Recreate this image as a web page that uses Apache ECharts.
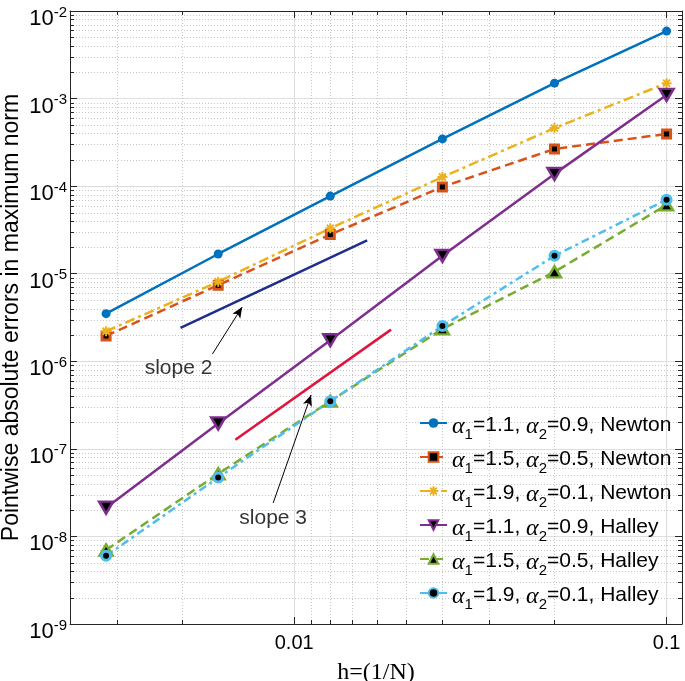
<!DOCTYPE html>
<html><head><meta charset="utf-8">
<script src="https://cdn.jsdelivr.net/npm/echarts@6/dist/echarts.min.js"></script>
<style>html,body{margin:0;padding:0;background:#fff}#c{width:685px;height:681px}</style>
</head><body><div id="c"></div>
<script>
// ---------- data ----------
const h = [0.003125, 0.00625, 0.0125, 0.025, 0.05, 0.1];
const newton11 = [3.5e-6, 1.68e-5, 7.7e-5, 3.46e-4, 1.5e-3, 5.9e-3];
const newton15 = [1.95e-6, 7.4e-6, 2.8e-5, 9.8e-5, 2.66e-4, 3.95e-4];
const newton19 = [2.2e-6, 8.1e-6, 3.3e-5, 1.27e-4, 4.6e-4, 1.5e-3];
const halley11 = [2.13e-8, 1.95e-7, 1.74e-6, 1.6e-5, 1.38e-4, 1.1e-3];
const halley15 = [7.0e-9, 5.2e-8, 3.5e-7, 2.34e-6, 1.05e-5, 6.1e-5];
const halley19 = [6.0e-9, 4.7e-8, 3.5e-7, 2.53e-6, 1.6e-5, 7.0e-5];
const alpha1 = ['1.1', '1.5', '1.9', '1.1', '1.5', '1.9'];
const alpha2 = ['0.9', '0.5', '0.1', '0.9', '0.5', '0.1'];
const methods = ['Newton', 'Newton', 'Newton', 'Halley', 'Halley', 'Halley'];
const xTickValues = [0.01, 0.1];
const xTickLabels = ['0.01', '0.1'];
const yTickExponents = [-9, -8, -7, -6, -5, -4, -3, -2];
const xMinorTicks = [0.0033333, 0.005, 0.0111111, 0.0125, 0.0142857, 0.0166667, 0.02, 0.025, 0.0333333, 0.05];
const yMinorMultipliers = [2, 3, 4, 5, 6, 7, 8, 9];
const slope2Line = [[0.00495, 2.4e-6], [0.0157, 2.4e-5]];
const slope3Line = [[0.00695, 1.27e-7], [0.0182, 2.3e-6]];
const annotTexts = [['slope 2', 0.00489, 8.4e-7], ['slope 3', 0.00878, 1.6e-8]];
const annotArrows = [[[0.00603, 1.21e-6], [0.00725, 4.17e-6]], [[0.00878, 2.41e-8], [0.0111, 4.12e-7]]];

// ---------- styles ----------
const FONT = 'Liberation Sans, Arial, Helvetica, sans-serif';
const AX = '#262626';
const allSeries = [newton11, newton15, newton19, halley11, halley15, halley19];
const names = allSeries.map((_, i) => 'a1=' + alpha1[i] + ', a2=' + alpha2[i] + ', ' + methods[i]);
const lineColors = ['#0072BD', '#D95319', '#EDB120', '#7E2F8E', '#77AC30', '#4DBEEE'];
const lineTypes = ['solid', [9, 5], [10, 4, 3, 4], 'solid', [9, 5], [8, 4, 3, 4]];
const symbols = ['circle', 'rect', 'path://M5,0L5,10M0,5L10,5M1.5,1.5L8.5,8.5M8.5,1.5L1.5,8.5', 'triangle', 'triangle', 'circle'];
const symSizes = [9, 8, 10, [14, 12], [13, 11], 9];
const symRot = [0, 0, 0, 180, 0, 0];
const itemStyles = [
  {color: '#0072BD', borderWidth: 0},
  {color: '#000', borderColor: '#D95319', borderWidth: 3},
  {color: 'rgba(0,0,0,0)', borderColor: '#EDB120', borderWidth: 2},
  {color: '#000', borderColor: '#7E2F8E', borderWidth: 2.5},
  {color: '#000', borderColor: '#77AC30', borderWidth: 2.5},
  {color: '#000', borderColor: '#4DBEEE', borderWidth: 3}
];

const dataSeries = allSeries.map((vals, i) => ({
  type: 'line', name: names[i], z: 5,
  data: h.map((x, k) => [x, vals[k]]),
  lineStyle: {color: lineColors[i], width: 2.5, type: lineTypes[i]},
  symbol: symbols[i], symbolSize: symSizes[i], symbolRotate: symRot[i],
  itemStyle: itemStyles[i], showAllSymbol: true
}));

const yMinorData = [];
yTickExponents.slice(0, -1).forEach(e => yMinorMultipliers.forEach(m => yMinorData.push([0.01, m * Math.pow(10, e)])));

function vLine(x, y1, y2, stroke, dash) {
  return {type: 'line', shape: {x1: x, y1: y1, x2: x, y2: y2}, style: {stroke: stroke, lineWidth: 1, lineDash: dash || null}};
}
function hLine(y, x1, x2, stroke, dash) {
  return {type: 'line', shape: {x1: x1, y1: y, x2: x2, y2: y}, style: {stroke: stroke, lineWidth: 1, lineDash: dash || null}};
}
const MINOR = '#c6c6c6', MDASH = [1, 2];

const gridSeries = [
  {
    type: 'custom', z: 1, silent: true, clip: false,
    data: xMinorTicks.map(v => [v, 1e-5]),
    renderItem(params, api) {
      const cs = params.coordSys;
      const x = Math.round(api.coord([api.value(0), 1e-5])[0]) + 0.5;
      return {type: 'group', children: [
        vLine(x, cs.y, cs.y + cs.height, MINOR, MDASH),
        vLine(x, cs.y + cs.height, cs.y + cs.height - 4, AX),
        vLine(x, cs.y, cs.y + 4, AX)
      ]};
    }
  },
  {
    type: 'custom', z: 1, silent: true, clip: false,
    data: yMinorData,
    renderItem(params, api) {
      const cs = params.coordSys;
      const y = Math.round(api.coord([0.01, api.value(1)])[1]) + 0.5;
      return {type: 'group', children: [
        hLine(y, cs.x, cs.x + cs.width, MINOR, MDASH),
        hLine(y, cs.x, cs.x + 4, AX),
        hLine(y, cs.x + cs.width, cs.x + cs.width - 4, AX)
      ]};
    }
  }
];

const refSeries = [
  {type: 'line', name: 'slope2', z: 4, data: slope2Line, symbol: 'none',
   lineStyle: {color: '#1F2E8C', width: 2.5}},
  {type: 'line', name: 'slope3', z: 4, data: slope3Line, symbol: 'none',
   lineStyle: {color: '#E0143C', width: 2.5}},
  {type: 'scatter', name: 'annot', z: 6, symbolSize: 1, itemStyle: {color: 'rgba(0,0,0,0)'},
   data: annotTexts.map(a => ({name: a[0], value: [a[1], a[2]]})),
   label: {show: true, position: 'inside', formatter: '{b}', fontSize: 21, fontFamily: FONT, color: '#000'},
   markLine: {
     silent: true, animation: false, symbol: ['none', 'arrow'], symbolSize: [7, 11],
     lineStyle: {color: '#000', width: 1, type: 'solid'}, label: {show: false},
     data: annotArrows.map(a => [{coord: a[0]}, {coord: a[1]}])
   }}
];

function xLabel(v) {
  for (let i = 0; i < xTickValues.length; i++) {
    if (Math.abs(Math.log10(v) - Math.log10(xTickValues[i])) < 1e-6) return xTickLabels[i];
  }
  return '';
}
function yLabel(v) {
  const e = Math.round(Math.log10(v));
  if (Math.abs(Math.log10(v) - e) > 1e-6 || yTickExponents.indexOf(e) < 0) return '';
  return '{b|10}{s|' + e + '}';
}

const xBase = {type: 'log', logBase: 10, min: 0.0025, max: 0.11,
  axisLine: {show: true, lineStyle: {color: AX, width: 1}},
  axisTick: {show: true, inside: true, length: 7, lineStyle: {color: AX}},
  minorTick: {show: false}, minorSplitLine: {show: false}};
const yBase = {type: 'log', logBase: 10, min: 1e-9, max: 1e-2,
  axisLine: {show: true, lineStyle: {color: AX, width: 1}},
  axisTick: {show: true, inside: true, length: 7, lineStyle: {color: AX}},
  minorTick: {show: false}, minorSplitLine: {show: false}};

const option = {
  animation: false,
  backgroundColor: '#fff',
  grid: {left: 70, top: 11, width: 612, height: 613, containLabel: false, outerBoundsMode: 'none'},
  xAxis: [
    Object.assign({}, xBase, {position: 'bottom',
      name: 'h=(1/N)', nameLocation: 'middle', nameGap: 37, nameMoveOverlap: false,
      nameTextStyle: {fontFamily: 'Liberation Serif, Times New Roman, serif', fontSize: 24, color: '#000'},
      axisLabel: {show: true, formatter: xLabel, margin: 9, fontSize: 20, fontFamily: FONT, color: '#000'},
      splitLine: {show: true, lineStyle: {color: '#dedede', width: 1}}}),
    Object.assign({}, xBase, {position: 'top', axisLabel: {show: false}, splitLine: {show: false}})
  ],
  yAxis: [
    Object.assign({}, yBase, {position: 'left',
      name: 'Pointwise absolute errors in maximum norm', nameLocation: 'middle', nameGap: 47, nameRotate: 90,
      nameMoveOverlap: false,
      nameTextStyle: {fontFamily: FONT, fontSize: 23, color: '#000'},
      axisLabel: {show: true, formatter: yLabel, margin: 3, showMinLabel: true, showMaxLabel: true,
        color: '#000', fontFamily: FONT,
        rich: {
          b: {fontSize: 22, fontFamily: FONT, color: '#000', lineHeight: 22, verticalAlign: 'top', padding: [8, 0, 0, 0]},
          s: {fontSize: 15, fontFamily: FONT, color: '#000', lineHeight: 15, verticalAlign: 'top', padding: [5, 0, 0, 0]}
        }},
      splitLine: {show: true, lineStyle: {color: '#dedede', width: 1}}}),
    Object.assign({}, yBase, {position: 'right', axisLabel: {show: false}, splitLine: {show: false}})
  ],
  legend: {
    show: true, orient: 'vertical', left: 419, top: 413, padding: 0, itemWidth: 27, itemHeight: 12, itemGap: 5,
    selectedMode: false, data: names, backgroundColor: 'rgba(0,0,0,0)',
    formatter: function (name) {
      const i = names.indexOf(name);
      return '{g|α}{sub|1}{t|=' + alpha1[i] + ', }{g|α}{sub|2}{t|=' + alpha2[i] + ', ' + methods[i] + '}';
    },
    textStyle: {
      color: '#000', fontSize: 21, fontFamily: FONT,
      rich: {
        t: {fontSize: 21, fontFamily: FONT, color: '#000', lineHeight: 20, verticalAlign: 'top', padding: [2, 0, 0, 0]},
        g: {fontSize: 24, fontFamily: 'Liberation Serif, serif', fontStyle: 'italic', color: '#000', lineHeight: 20, verticalAlign: 'top', padding: [2, 0, 0, 0]},
        sub: {fontSize: 15, fontFamily: FONT, color: '#000', lineHeight: 14, verticalAlign: 'top', padding: [14, 0, 0, 0]}
      }
    }
  },
  series: gridSeries.concat(refSeries, dataSeries)
};

const chart = echarts.init(document.getElementById('c'), null, {renderer: 'canvas'});
chart.setOption(option);
</script>
</body></html>
